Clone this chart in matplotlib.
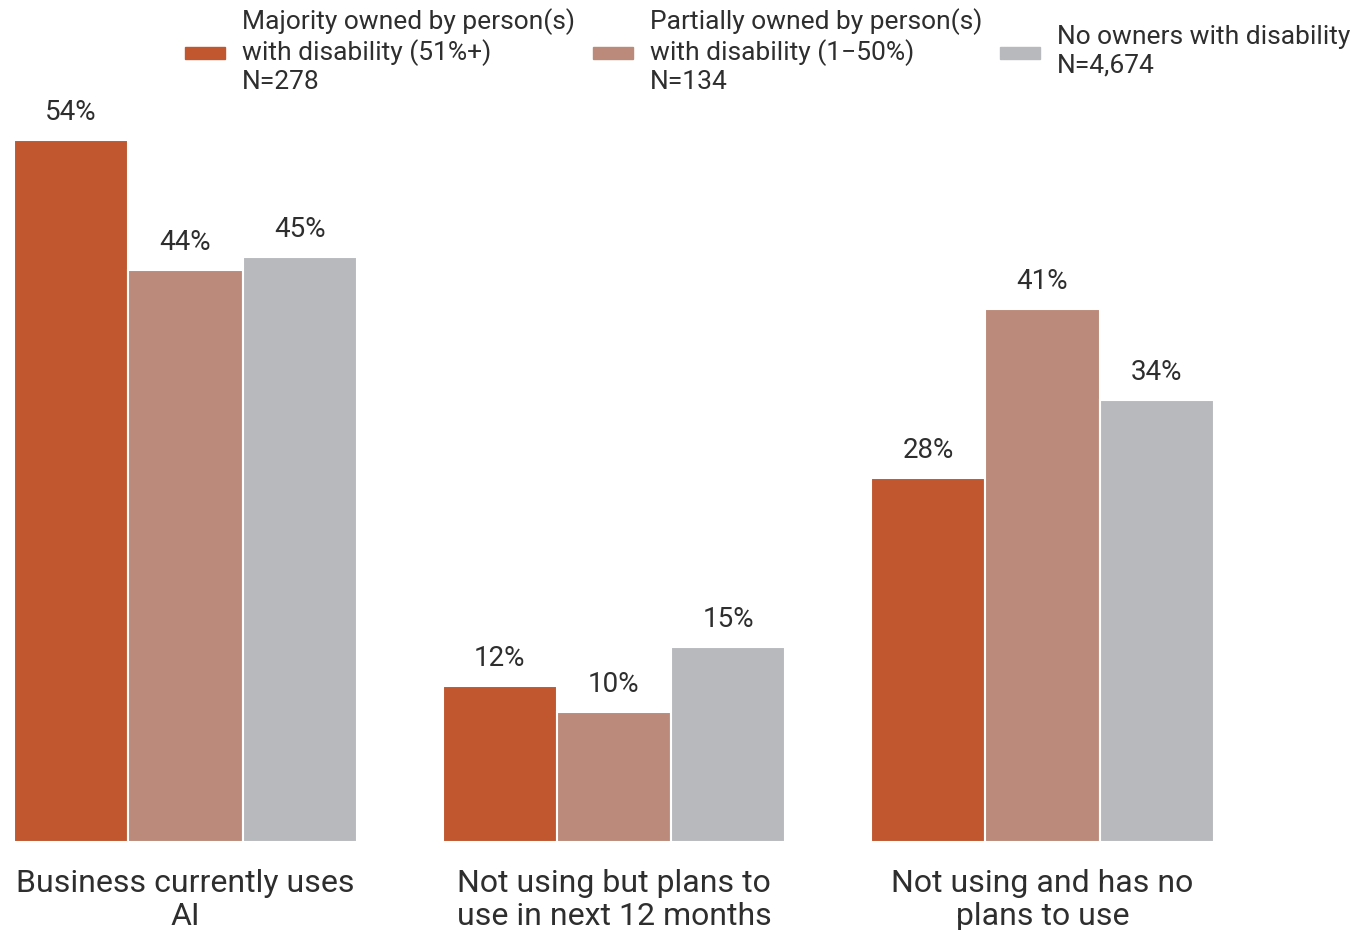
import matplotlib

matplotlib.use("Agg")
import matplotlib.pyplot as plt
import numpy as np
from matplotlib.patches import Rectangle

plt.rcParams["font.family"] = ["Roboto", "DejaVu Sans"]

categorias = [
    "Business currently uses\nAI",
    "Not using but plans to\nuse in next 12 months",
    "Not using and has no\nplans to use",
]
series = [
    "Majority owned by person(s)\nwith disability (51%+)\nN=278",
    "Partially owned by person(s)\nwith disability (1\u221250%)\nN=134",
    "No owners with disability\nN=4,674",
]
valores = [
    [54, 12, 28],
    [44, 10, 41],
    [45, 15, 34],
]
colores = ["#C0572F", "#BC8A7A", "#B8B9BD"]
TEXTO = "#2E2E2E"

fig = plt.figure(figsize=(13.6, 9.3), dpi=100)
ax = fig.add_axes([14 / 1360, 88 / 930, 1200 / 1360, 780 / 930])

x = np.arange(len(categorias))
w = 0.2667
for i, (vals, color) in enumerate(zip(valores, colores)):
    pos = x + (i - 1) * w
    bars = ax.bar(pos, vals, width=w, color=color, edgecolor="white", linewidth=1.5)
    for b, v in zip(bars, vals):
        ax.annotate(f"{v}%", (b.get_x() + b.get_width() / 2, v),
                    xytext=(0, 10), textcoords="offset points",
                    ha="center", va="bottom", fontsize=20, color=TEXTO)

ax.set_xlim(-1.5 * w, 2 + 1.5 * w)
ax.set_ylim(0, 60)
ax.set_xticks(x)
ax.set_xticklabels(categorias, fontsize=23, color=TEXTO, linespacing=1.17)
ax.tick_params(axis="x", length=0, pad=19.5)
ax.set_yticks([])
for s in ax.spines.values():
    s.set_visible(False)

# leyenda manual en la parte superior
leyenda_x = [185, 593, 1000]
for nombre, color, lx in zip(series, colores, leyenda_x):
    fig.patches.append(Rectangle((lx / 1360, (930 - 59) / 930), 40 / 1360, 12 / 930,
                                 transform=fig.transFigure, color=color))
    fig.text((lx + 57) / 1360, (930 - 51) / 930, nombre, ha="left", va="center",
             fontsize=19, color=TEXTO, linespacing=1.22)

fig.savefig("out.png", dpi=100)
